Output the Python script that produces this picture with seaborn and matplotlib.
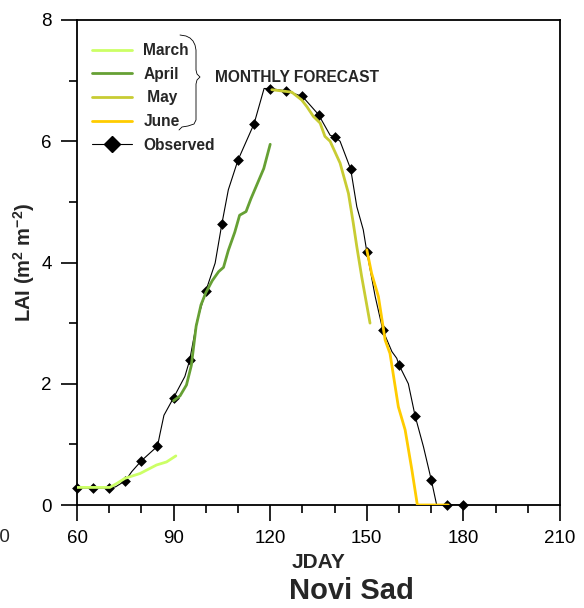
import matplotlib
matplotlib.use("Agg")
import matplotlib.pyplot as plt
from matplotlib.lines import Line2D
from matplotlib.ticker import MultipleLocator
import seaborn as sns

# ---------------- data ----------------
obs_day = [60, 65, 70, 75, 80, 85, 90, 95, 100, 105, 110, 115, 120, 125, 130,
           135, 140, 145, 150, 155, 160, 165, 170, 175, 180]
obs_lai = [0.28, 0.28, 0.28, 0.40, 0.73, 0.97, 1.77, 2.39, 3.53, 4.64, 5.69, 6.29,
           6.87, 6.83, 6.74, 6.44, 6.07, 5.54, 4.18, 2.88, 2.31, 1.47, 0.42, 0.0, 0.0]

obs_line_day = [60, 65, 70, 72, 75, 77, 80, 85, 85.8, 87, 90, 93.5, 95, 97.2, 100,
                102.9, 105, 107, 110, 115, 118.1, 120, 125, 130, 135, 138.6, 140,
                141.7, 145, 146.9, 148.9, 150, 152.6, 155, 157.8, 159.3, 160, 162.9,
                165, 167.6, 170, 171.7, 175, 180]
obs_line_lai = [0.28, 0.28, 0.28, 0.30, 0.40, 0.55, 0.73, 0.97, 1.18, 1.48, 1.77, 2.12,
                2.39, 3.02, 3.53, 3.99, 4.64, 5.20, 5.69, 6.29, 6.87, 6.87, 6.83, 6.74,
                6.44, 6.10, 6.07, 6.00, 5.54, 4.92, 4.54, 4.18, 3.44, 2.88, 2.53, 2.42,
                2.31, 2.00, 1.47, 0.96, 0.42, 0.0, 0.0, 0.0]

march_day = [59.5, 65, 70.2, 72.5, 74.9, 79.6, 84.7, 87.8, 90.7]
march_lai = [0.29, 0.29, 0.29, 0.36, 0.44, 0.52, 0.66, 0.71, 0.81]

april_day = [90, 92, 94, 95.5, 97, 98.5, 100, 102, 104, 105.5, 107, 109, 110.5,
             112.5, 114, 116, 118, 120]
april_lai = [1.72, 1.80, 1.98, 2.30, 2.95, 3.30, 3.50, 3.70, 3.85, 3.92, 4.20, 4.50,
             4.78, 4.84, 5.05, 5.30, 5.55, 5.95]

may_day = [120.5, 126.7, 129.8, 131.4, 133.4, 135.5, 137, 138.6, 141.7, 144.3,
           145.8, 146.9, 148.4, 151]
may_lai = [6.85, 6.81, 6.68, 6.57, 6.41, 6.30, 6.08, 6.00, 5.64, 5.14, 4.65, 4.26,
           3.77, 3.00]

june_day = [150, 151.5, 153.6, 155.7, 157.2, 159.8, 161.9, 164, 165.7, 175.3]
june_lai = [4.21, 3.82, 3.44, 2.72, 2.50, 1.62, 1.24, 0.58, 0.0, 0.0]

labels = ["March", "April", " May", "June", "Observed"]
colors = ["#ccff66", "#66a034", "#c8cc33", "#ffcc00"]
x_ticks = [60, 90, 120, 150, 180, 210]
y_ticks = [0, 2, 4, 6, 8]

# ---------------- style ----------------
sns.set_theme(style="white")
plt.rcParams["font.family"] = ["Liberation Sans", "DejaVu Sans"]
plt.rcParams["mathtext.default"] = "regular"

W, H = 584, 608
fig = plt.figure(figsize=(W / 100, H / 100), dpi=100)
ax = fig.add_axes([77 / W, 1 - 505 / H, (560 - 77) / W, (505 - 20) / H])

def fpx(x, y):
    return x / W, 1 - y / H

# observed line + markers
sns.lineplot(x=obs_line_day, y=obs_line_lai, ax=ax, color="black", linewidth=0.8,
             sort=False, estimator=None)
sns.scatterplot(x=obs_day, y=obs_lai, ax=ax, marker="D", color="black", s=30,
                edgecolor="black", linewidth=0, clip_on=False, zorder=3)

series = [(march_day, march_lai), (april_day, april_lai), (may_day, may_lai),
          (june_day, june_lai)]
for (d, v), c in zip(series, colors):
    sns.lineplot(x=d, y=v, ax=ax, color=c, linewidth=2.0, sort=False,
                 estimator=None, zorder=4)

ax.set_xlim(60, 210)
ax.set_ylim(0, 8)
ax.set_xticks(x_ticks)
ax.set_yticks(y_ticks)
ax.xaxis.set_minor_locator(MultipleLocator(10))
ax.yaxis.set_minor_locator(MultipleLocator(1))
ax.tick_params(axis="both", which="major", direction="out", length=11.5, width=1.2,
               labelsize=13.5, color="black", labelcolor="black", pad=6.5,
               bottom=True, left=True, top=False, right=False)
ax.tick_params(axis="both", which="minor", direction="out", length=5.8, width=1.2,
               color="black", bottom=True, left=True, top=False, right=False)
for s in ax.spines.values():
    s.set_color("black")
    s.set_linewidth(1.3)
    s.set_visible(True)

ax.set_xlabel("JDAY", fontsize=15, fontweight="bold")
ax.set_ylabel(r"LAI (m$^{2}$ m$^{-2}$)", fontsize=14.5, fontweight="bold")
ax.xaxis.set_label_coords(0.5, (505 - 553) / 485)
ax.yaxis.set_label_coords((37 - 77) / 483, 0.5)

fig.text(351 / W, 1 - 591 / H, "Novi Sad", fontsize=21,
         fontweight="bold", ha="center", va="center")

# stray clipped label at the left edge
fig.text(10 / W, 1 - 537 / H, "30", fontsize=13.5, ha="right", va="center")

# legend
handles = [Line2D([], [], color=c, linewidth=2.0) for c in colors]
handles.append(Line2D([], [], color="black", linewidth=0.8, marker="D",
                      markersize=8, markerfacecolor="black"))
leg = ax.legend(handles, labels, loc="upper left",
                bbox_to_anchor=fpx(92, 43), bbox_transform=fig.transFigure,
                frameon=False, borderpad=0, borderaxespad=0, handlelength=2.6,
                handletextpad=0.7, labelspacing=0.56,
                prop={"weight": "bold", "size": 11.2})

# brace
bx = [180, 186, 190, 193, 195, 196, 196, 197, 200, 197, 196, 196, 194, 188, 182, 179]
by = [35, 36, 38, 41, 45, 50, 70, 74, 77, 80, 84, 120, 124, 126, 127, 130]
pts = [fpx(a, b) for a, b in zip(bx, by)]
fig.add_artist(Line2D([p[0] for p in pts], [p[1] for p in pts], color="black",
                      linewidth=0.6, transform=fig.transFigure))

fig.text(*fpx(215, 78), "MONTHLY FORECAST", fontsize=11.2, fontweight="bold",
         ha="left", va="center")

fig.savefig("out.png", dpi=100)
